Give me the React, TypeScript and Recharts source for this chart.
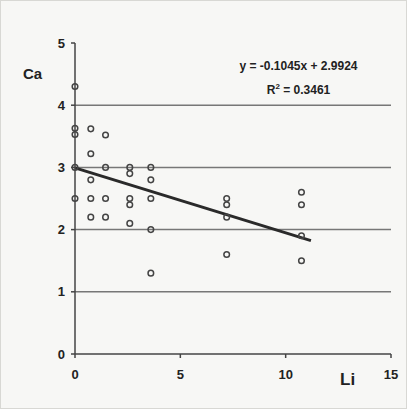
import React from "react";
import {
  ScatterChart,
  Scatter,
  XAxis,
  YAxis,
  ReferenceLine,
} from "recharts";

// Li (x) and Ca (y) values
const liValues = [
  0, 0, 0, 0, 0,
  0.75, 0.75, 0.75, 0.75, 0.75,
  1.45, 1.45, 1.45, 1.45,
  2.6, 2.6, 2.6, 2.6, 2.6,
  3.6, 3.6, 3.6, 3.6, 3.6,
  7.2, 7.2, 7.2, 7.2,
  10.75, 10.75, 10.75, 10.75,
];
const caValues = [
  4.3, 3.63, 3.53, 3.0, 2.5,
  3.62, 3.22, 2.8, 2.5, 2.2,
  3.52, 3.0, 2.5, 2.2,
  3.0, 2.9, 2.5, 2.4, 2.1,
  3.0, 2.8, 2.5, 2.0, 1.3,
  2.5, 2.4, 2.2, 1.6,
  2.6, 2.4, 1.9, 1.5,
];

const xTicks = [0, 5, 10, 15];
const yTicks = [0, 1, 2, 3, 4, 5];
const gridValues = [1, 2, 3, 4];

// trendline y = -0.1045x + 2.9924
const slope = -0.1045;
const intercept = 2.9924;
const trendRange = [0, 11.2];

const points = liValues.map((li, i) => ({ li, ca: caValues[i] }));

const FONT = "'Liberation Sans', Arial, sans-serif";

const App: React.FC = () => {
  const trendSegment = trendRange.map((x) => ({ x, y: slope * x + intercept }));

  return (
    <div
      style={{
        position: "absolute",
        left: 0,
        top: 0,
        width: 407,
        height: 409,
        background: "#f7f7f5",
        boxSizing: "border-box",
        border: "1px solid #d8d8d4",
        fontFamily: FONT,
      }}
    >
      <ScatterChart
        width={405}
        height={407}
        margin={{ top: 42, right: 15, bottom: 24, left: 0 }}
        style={{ position: "absolute", left: 0, top: 0 }}
      >
        <XAxis
          type="number"
          dataKey="li"
          domain={[0, 15]}
          ticks={xTicks}
          height={30}
          stroke="#444"
          strokeWidth={1.5}
          tickSize={4}
          tickMargin={12}
          tick={{ fill: "#222", fontSize: 13, fontWeight: "bold", fontFamily: FONT }}
        />
        <YAxis
          type="number"
          dataKey="ca"
          domain={[0, 5]}
          ticks={yTicks}
          width={74}
          stroke="#444"
          strokeWidth={1.5}
          tickSize={4}
          tickMargin={6}
          tick={{ fill: "#222", fontSize: 13, fontWeight: "bold", fontFamily: FONT }}
        />
        {gridValues.map((v) => (
          <ReferenceLine key={v} y={v} stroke="#777" strokeWidth={1.5} />
        ))}
        <ReferenceLine
          segment={trendSegment}
          stroke="#2a2a2a"
          strokeWidth={3}
        />
        <Scatter
          data={points}
          isAnimationActive={false}
          shape={(props: any) => (
            <circle
              cx={props.cx}
              cy={props.cy}
              r={2.8}
              fill="none"
              stroke="#444"
              strokeWidth={1.5}
            />
          )}
        />
      </ScatterChart>
      <div style={{ position: "absolute", left: 22, top: 64, fontSize: 15, fontWeight: "bold", color: "#222" }}>
        Ca
      </div>
      <div style={{ position: "absolute", left: 339, top: 369, fontSize: 17, fontWeight: "bold", color: "#222" }}>
        Li
      </div>
      <div
        style={{
          position: "absolute",
          left: 205,
          top: 53,
          width: 185,
          textAlign: "center",
          fontSize: 12,
          fontWeight: "bold",
          color: "#222",
          lineHeight: "24px",
        }}
      >
        <div>y = -0.1045x + 2.9924</div>
        <div>
          R<sup style={{ fontSize: 8, lineHeight: 0 }}>2</sup> = 0.3461
        </div>
      </div>
    </div>
  );
};

export default App;
